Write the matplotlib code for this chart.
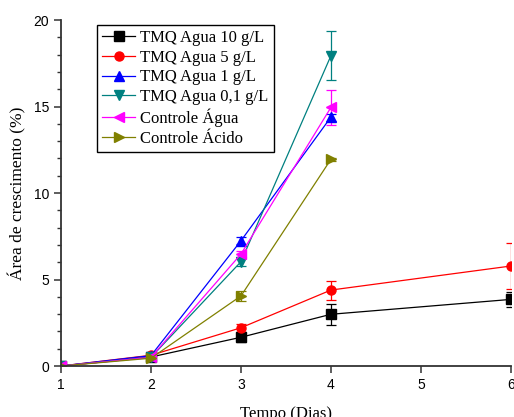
import matplotlib
matplotlib.use("Agg")
import matplotlib.pyplot as plt
from matplotlib.ticker import MultipleLocator
from matplotlib.lines import Line2D

days_long = [1, 2, 3, 4, 6]
days_short = [1, 2, 3, 4]

tmq10 = [0.0, 0.52, 1.66, 2.99, 3.85]
tmq10_err = [0.05, 0.05, 0.3, 0.6, 0.43]
tmq5 = [0.0, 0.62, 2.21, 4.39, 5.78]
tmq5_err = [0.05, 0.05, 0.22, 0.55, 1.35]
tmq1 = [0.0, 0.6, 7.24, 14.39]
tmq1_err = [0.05, 0.05, 0.2, 0.2]
tmq01 = [0.0, 0.5, 6.03, 17.94]
tmq01_err = [0.05, 0.05, 0.25, 1.42]
ctrl_agua = [0.0, 0.5, 6.47, 14.95]
ctrl_agua_err = [0.05, 0.1, 0.2, 1.0]
ctrl_acido = [0.0, 0.45, 4.05, 11.95]
ctrl_acido_err = [0.05, 0.05, 0.3, 0.1]

labels = ["TMQ Agua 10 g/L", "TMQ Agua 5 g/L", "TMQ Agua 1 g/L",
          "TMQ Agua 0,1 g/L", "Controle Água", "Controle Ácido"]
colors = ["#000000", "#FF0000", "#0000FF", "#008080", "#FF00FF", "#808000"]
markers = ["s", "o", "^", "v", "<", ">"]

series = [
    (days_long, tmq10, tmq10_err),
    (days_long, tmq5, tmq5_err),
    (days_short, tmq1, tmq1_err),
    (days_short, tmq01, tmq01_err),
    (days_short, ctrl_agua, ctrl_agua_err),
    (days_short, ctrl_acido, ctrl_acido_err),
]

fig = plt.figure(figsize=(5.14, 4.17), dpi=100)
ax = fig.add_axes([0.1187, 0.1223, 0.8753, 0.8297])

handles = []
for (x, y, e), lab, c, m in zip(series, labels, colors, markers):
    ax.errorbar(x, y, yerr=e, color=c, marker=m, markersize=6.5, linewidth=0.9,
                elinewidth=0.9, capsize=3.5, capthick=0.9)
    handles.append(Line2D([], [], color=c, marker=m, markersize=6.5, linewidth=0.9, label=lab))

ax.set_xlim(1, 6)
ax.set_ylim(0, 20)
ax.xaxis.set_major_locator(MultipleLocator(1))
ax.yaxis.set_major_locator(MultipleLocator(5))
ax.yaxis.set_minor_locator(MultipleLocator(1))
ax.spines["top"].set_visible(False)
ax.spines["right"].set_visible(False)
for s in ["left", "bottom"]:
    ax.spines[s].set_linewidth(1.3)
    ax.spines[s].set_color("#333333")
ax.tick_params(axis="both", which="major", direction="out", length=5, width=1.1,
               labelsize=10, colors="#333333", labelcolor="black")
ax.tick_params(axis="y", which="minor", direction="out", length=3, width=1.0, colors="#333333")
for t in ax.get_xticklabels() + ax.get_yticklabels():
    t.set_fontfamily("Liberation Sans")

ax.set_xlabel("Tempo (Dias)", fontfamily="Liberation Serif", fontsize=12, labelpad=10)
ax.set_ylabel("Área de crescimento (%)", fontfamily="Liberation Serif", fontsize=12.5, labelpad=5)

leg = ax.legend(handles=handles, loc="upper left", bbox_to_anchor=(0.08, 0.9855),
                fancybox=False, edgecolor="black", framealpha=1,
                prop={"family": "Liberation Serif", "size": 12},
                handlelength=2.0, labelspacing=0.22, borderpad=0.3, handletextpad=0.3,
                borderaxespad=0.0)
leg.get_frame().set_linewidth(1.0)

fig.savefig("out.png", dpi=100)
